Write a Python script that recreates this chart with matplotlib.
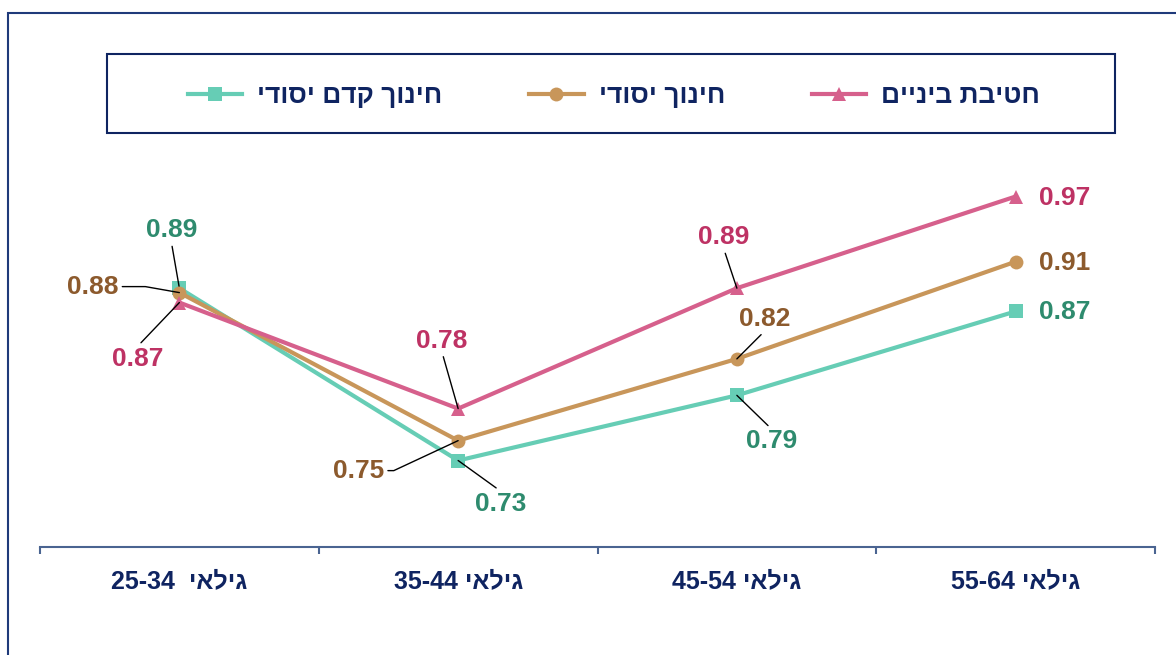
import re
import matplotlib
matplotlib.use('Agg')
import matplotlib.pyplot as plt
from matplotlib.patches import Rectangle

# data (ratios)
age_groups = ['גילאי  25-34', 'גילאי 35-44', 'גילאי 45-54', 'גילאי 55-64']
series_names = ['חינוך קדם יסודי', 'חינוך יסודי', 'חטיבת ביניים']
pre_primary = [0.887, 0.731, 0.790, 0.866]
primary = [0.883, 0.749, 0.823, 0.911]
lower_secondary = [0.874, 0.778, 0.887, 0.970]


def rtl(s):
    # matplotlib has no bidi support: build the visual (left to right) order
    tokens = re.findall(r'[\u0590-\u05FF]+|\s+|[^\u0590-\u05FF\s]+', s)
    out = []
    for tok in reversed(tokens):
        if re.match(r'[\u0590-\u05FF]', tok):
            out.append(tok[::-1])
        else:
            out.append(tok)
    return ''.join(out)


if __name__ == '__main__':
    plt.rcParams['font.family'] = ['Liberation Sans', 'DejaVu Sans']

    navy = '#0F2461'
    axis_color = '#4A6491'
    line_colors = ['#66CDB5', '#C8965A', '#D6608C']
    text_colors = ['#2E8B6E', '#8C5A2D', '#BE3264']
    markers = ['s', 'o', '^']
    label_size = 19
    tick_size = 18
    px = 0.72  # pixels -> points at dpi 100

    # label offsets from each point, in pixels (x right, y up)
    label_offsets = [
        [(-8, 58), (43, -43), (35, -46), (49, -1)],
        [(-87, 6), (-100, -30), (28, 40), (49, -1)],
        [(-42, -56), (-16, 68), (-13, 51), (49, -1)],
    ]
    # leader style per label (None = no leader)
    leaders = [
        ['arc3', 'arc3', 'arc3', None],
        ['angle,angleA=0,angleB=-10,rad=0', 'angle,angleA=0,angleB=25,rad=0',
         'arc3', None],
        ['arc3', 'arc3', 'arc3', None],
    ]
    # where the leader leaves the label box
    leader_relpos = [
        [(0.5, 0), (0.5, 1), (0.5, 1), None],
        [(1, 0.5), (1, 0.5), (0.5, 0), None],
        [(0.5, 1), (0.5, 0), (0.5, 0), None],
    ]

    fig = plt.figure(figsize=(11.76, 6.55), dpi=100)
    ax = fig.add_axes([40/1176, 108/655, 1115/1176, 397/655])

    # outer frame (runs off the right and bottom edges)
    fig.patches.append(Rectangle(
        (8/1176, -0.2), 1.2, 0.2 + (655-12.5)/655,
        transform=fig.transFigure, fill=False,
        edgecolor='#1F3A7A', linewidth=1.5))

    x = list(range(len(age_groups)))
    all_series = [pre_primary, primary, lower_secondary]
    handles = []
    for i, values in enumerate(all_series):
        h, = ax.plot(x, values, color=line_colors[i], linewidth=3,
                     marker=markers[i], markersize=10,
                     markeredgewidth=0, zorder=3)
        handles.append(h)
        for j, v in enumerate(values):
            dx, dy = label_offsets[i][j]
            kw = dict(
                textcoords='offset points',
                xytext=(dx*px, dy*px),
                ha='center', va='center',
                fontsize=label_size, fontweight='bold',
                color=text_colors[i],
            )
            if leaders[i][j] is not None:
                kw['arrowprops'] = dict(
                    arrowstyle='-', color='black', linewidth=1,
                    shrinkA=1, shrinkB=0,
                    connectionstyle=leaders[i][j],
                    relpos=leader_relpos[i][j],
                )
            ax.annotate(f'{v:.2f}', xy=(j, v), **kw)

    ax.set_xlim(-0.5, len(age_groups) - 0.5)
    ax.set_ylim(0.6527, 1.0121)

    for side in ('left', 'right', 'top'):
        ax.spines[side].set_visible(False)
    ax.spines['bottom'].set_color(axis_color)
    ax.spines['bottom'].set_linewidth(1.5)
    ax.set_yticks([])

    ax.set_xticks(x)
    ax.set_xticklabels([rtl(a) for a in age_groups],
                       fontsize=tick_size, fontweight='bold', color=navy)
    ax.tick_params(axis='x', which='major', length=0, pad=16)
    ax.set_xticks([k - 0.5 for k in range(len(age_groups) + 1)], minor=True)
    ax.tick_params(axis='x', which='minor', length=5, width=1.5,
                   color=axis_color, direction='out')

    # legend box
    fig.patches.append(Rectangle(
        (107/1176, (655-133)/655), 1008/1176, 79/655,
        transform=fig.transFigure, fill=False,
        edgecolor=navy, linewidth=1.5))
    ax.legend(
        handles=handles,
        labels=[rtl(s) for s in series_names],
        loc='center',
        bbox_to_anchor=(614/1176, (655-96)/655),
        bbox_transform=fig.transFigure,
        ncol=3,
        frameon=False,
        prop=dict(size=label_size, weight='bold'),
        labelcolor=navy,
        handlelength=2.05,
        handletextpad=0.57,
        columnspacing=3.3,
        numpoints=1,
    )

    fig.savefig('out.png', dpi=100)
